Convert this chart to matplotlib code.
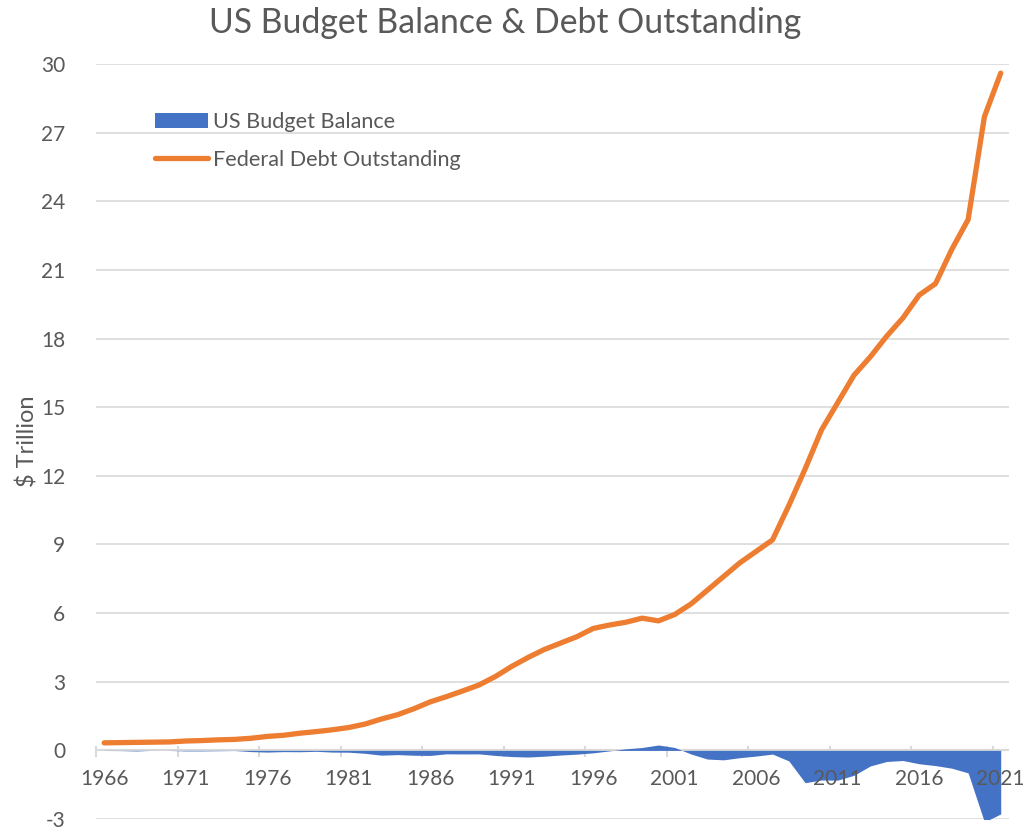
import matplotlib
matplotlib.use("Agg")
import matplotlib.pyplot as plt
from matplotlib.patches import Patch
from matplotlib.lines import Line2D

plt.rcParams['font.family'] = ['Lato', 'DejaVu Sans']
plt.rcParams['axes.unicode_minus'] = False

years = list(range(1966, 2022))
debt = [0.33, 0.34, 0.35, 0.36, 0.37, 0.41, 0.43, 0.46, 0.48, 0.53,
        0.61, 0.66, 0.75, 0.82, 0.90, 1.00, 1.15, 1.37, 1.56, 1.82,
        2.12, 2.35, 2.60, 2.86, 3.23, 3.67, 4.06, 4.41, 4.69, 4.97,
        5.33, 5.48, 5.60, 5.78, 5.66, 5.94, 6.40, 7.00, 7.60, 8.20,
        8.70, 9.20, 10.70, 12.30, 14.00, 15.20, 16.40, 17.20, 18.10, 18.90,
        19.90, 20.40, 21.90, 23.20, 27.70, 29.60]
balance = [-0.004, -0.009, -0.025, 0.003, -0.003, -0.023, -0.023, -0.015, -0.006, -0.053,
           -0.074, -0.054, -0.059, -0.041, -0.074, -0.079, -0.128, -0.208, -0.185, -0.212,
           -0.221, -0.150, -0.155, -0.153, -0.221, -0.269, -0.290, -0.255, -0.203, -0.164,
           -0.107, -0.022, 0.069, 0.126, 0.236, 0.128, -0.158, -0.378, -0.413, -0.318,
           -0.248, -0.161, -0.459, -1.413, -1.294, -1.300, -1.087, -0.680, -0.485, -0.442,
           -0.585, -0.665, -0.779, -0.984, -3.132, -2.775]
yticks = list(range(-3, 31, 3))
xlabels = list(range(1966, 2022, 5))

BLUE = '#4472C4'
ORANGE = '#ED7D31'
GRID = '#D9D9D9'
TXT = '#595959'

fig = plt.figure(figsize=(10.28, 8.31), dpi=100)
ax = fig.add_axes([0.0934, 0.0144, 0.888, 0.9086])

ax.set_ylim(-3, 30)
ax.set_xlim(1965.5, 2021.5)
ax.set_yticks(yticks)
ax.yaxis.grid(True, color=GRID, linewidth=1.2)
ax.set_axisbelow(True)
for s in ax.spines.values():
    s.set_visible(False)

ax.fill_between(years, balance, 0, color=BLUE, linewidth=0, zorder=2)
ax.axhline(0, color=GRID, linewidth=1.5, zorder=1)
ax.plot(years, debt, color=ORANGE, linewidth=3.8, solid_capstyle='round', zorder=3)

# x ticks at category boundaries, labels at category centres
tick_pos = [y - 0.5 for y in xlabels]
for tp in tick_pos:
    ax.plot([tp, tp], [0.15, -0.25], color=GRID, linewidth=1.5, zorder=1, clip_on=False)
ax.set_xticks([])
for yl in xlabels:
    ax.text(yl, -0.8, str(yl), ha='center', va='top', fontsize=15, color=TXT)

ax.tick_params(axis='y', length=0, labelsize=15, labelcolor=TXT, pad=22)
ax.set_ylabel('$ Trillion', fontsize=17, color=TXT, labelpad=2)

fig.text(0.491, 0.972, 'US Budget Balance & Debt Outstanding', ha='center', va='center',
         fontsize=24.3, color=TXT)

handles = [Patch(facecolor=BLUE, edgecolor='none'),
           Line2D([0], [0], color=ORANGE, linewidth=3.8, solid_capstyle='round')]
leg = ax.legend(handles, ['US Budget Balance', 'Federal Debt Outstanding'],
                loc='upper left', bbox_to_anchor=(0.043, 0.962), frameon=False,
                fontsize=15.6, labelcolor=TXT, handlelength=2.45, handletextpad=0.25,
                labelspacing=0.8)

fig.savefig('out.png', dpi=100)
